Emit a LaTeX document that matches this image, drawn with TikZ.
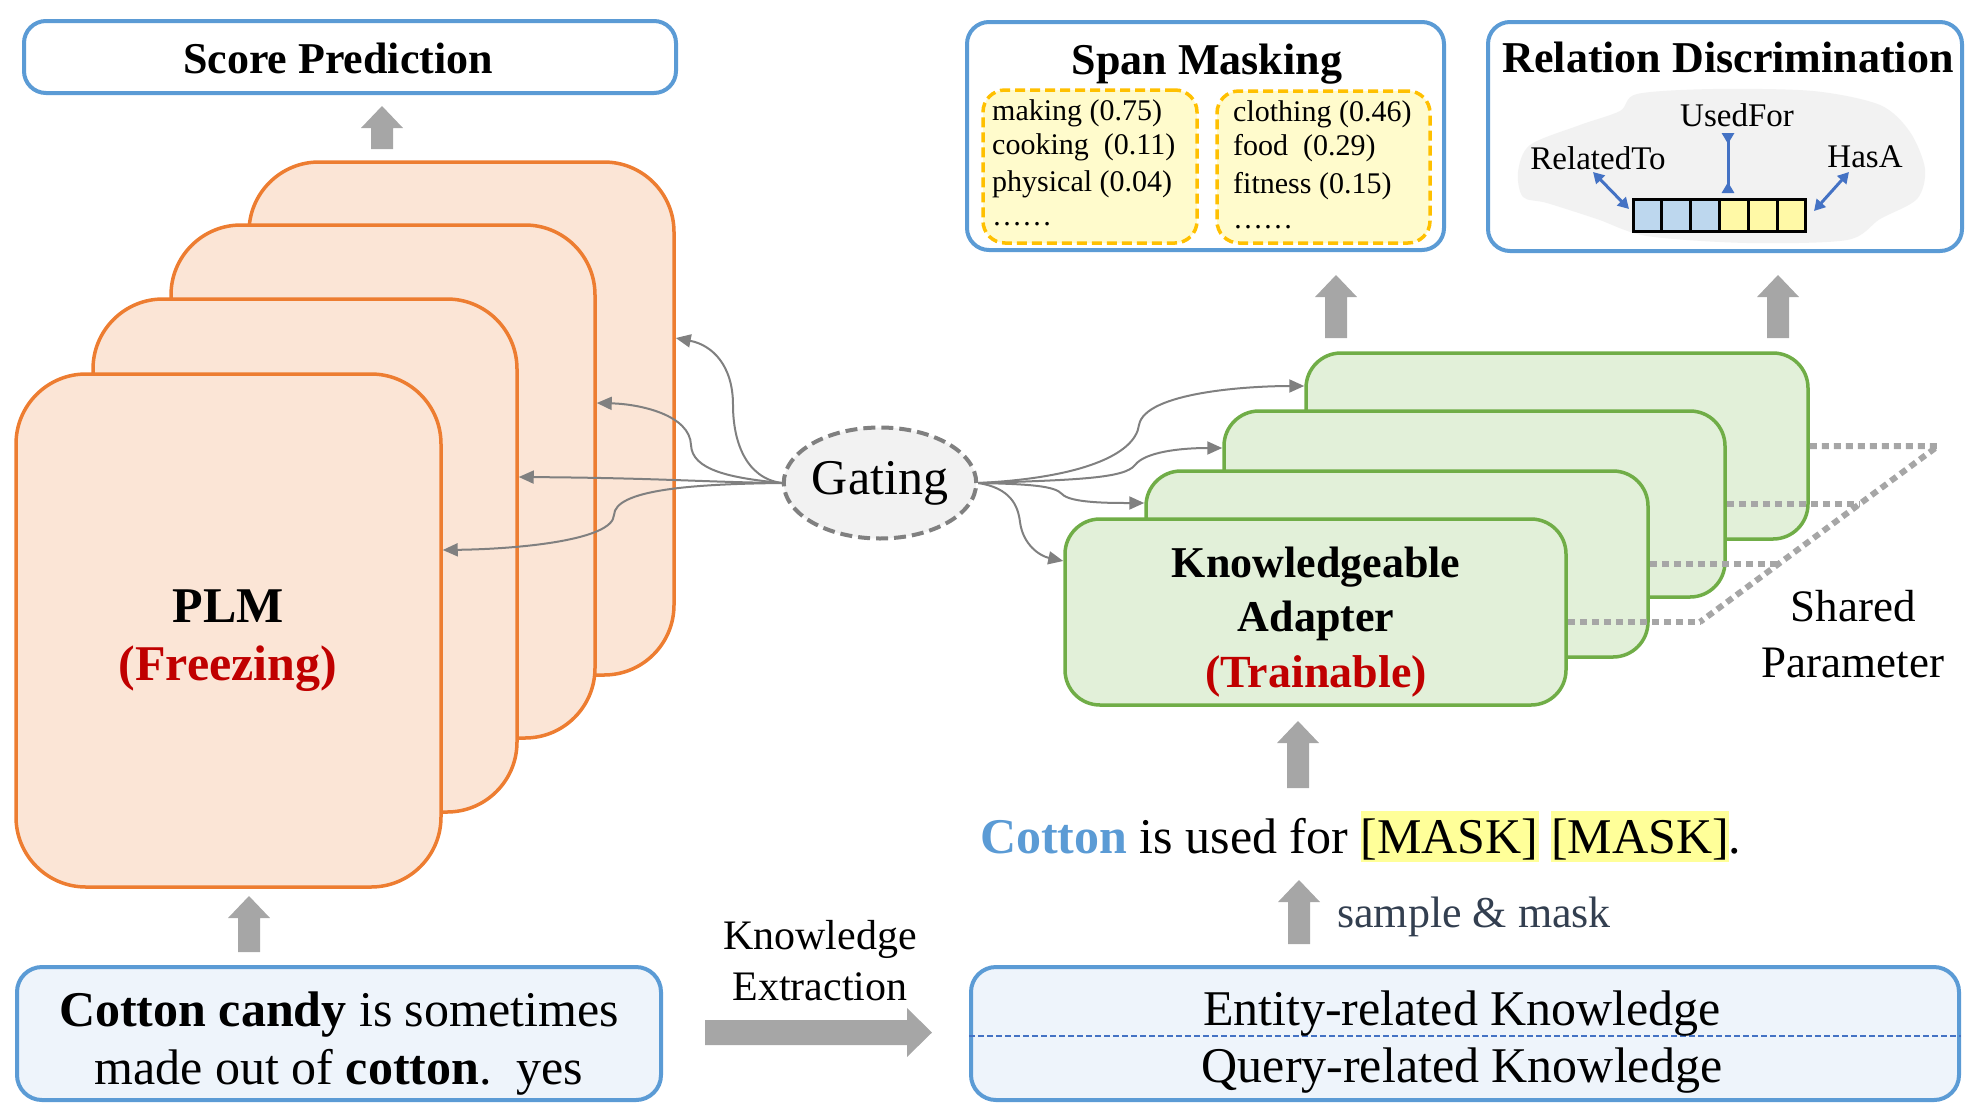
\documentclass[tikz,border=0pt]{standalone}
\usepackage{fontspec}
\setmainfont{Liberation Serif}
\usetikzlibrary{arrows.meta,shapes.geometric,fit,calc}
\definecolor{orgline}{HTML}{ED7D31}
\definecolor{orgfill}{HTML}{FBE5D6}
\definecolor{grnline}{HTML}{70AD47}
\definecolor{grnfill}{HTML}{E2F0D9}
\definecolor{bluline}{HTML}{5B9BD5}
\definecolor{blufill}{HTML}{EEF4FB}
\definecolor{arrgray}{HTML}{A6A6A6}
\definecolor{thingray}{HTML}{808080}
\definecolor{gatefill}{HTML}{F2F2F2}
\definecolor{ylwline}{HTML}{FFC000}
\definecolor{ylwfill}{HTML}{FFFBCC}
\definecolor{maskylw}{HTML}{FFFF99}
\definecolor{cellblue}{HTML}{BDD7EE}
\definecolor{cellylw}{HTML}{FFF9A6}
\definecolor{relblue}{HTML}{4472C4}
\definecolor{darkred}{HTML}{C00000}
\definecolor{slate}{HTML}{333F50}
\definecolor{cloudgray}{HTML}{F2F2F2}
\newcommand\myfs[1]{\fontsize{#1}{#1}\selectfont}
\newcommand\hlmask[1]{{\setlength{\fboxsep}{0pt}\colorbox{maskylw}{\rule[-9pt]{0pt}{51pt}#1}}}
\newcommand\blockup[3]{\fill[arrgray] ({#1-11},#2) -- ({#1-11},{#3+22}) -- ({#1-21},{#3+22}) -- (#1,#3) -- ({#1+21},{#3+22}) -- ({#1+11},{#3+22}) -- ({#1+11},#2) -- cycle;}
\begin{document}
\begin{tikzpicture}[x=1pt,y=-1pt,
  plmbox/.style={draw=orgline,fill=orgfill,line width=3.5pt,rounded corners=70pt,inner sep=0pt},
  adbox/.style={draw=grnline,fill=grnfill,line width=3.5pt,rounded corners=35pt,inner sep=0pt},
  topbox/.style={draw=bluline,fill=white,line width=4pt,rounded corners=22pt,inner sep=0pt},
  botbox/.style={draw=bluline,fill=blufill,line width=4pt,rounded corners=25pt,inner sep=0pt},
  ylwbox/.style={draw=ylwline,fill=ylwfill,line width=3.5pt,dash pattern=on 10pt off 5pt,rounded corners=22pt,inner sep=0pt},
  gate/.style={ellipse,draw=thingray,fill=gatefill,line width=4pt,dash pattern=on 12pt off 6pt,minimum width=192pt,minimum height=111pt,inner sep=0pt,font=\myfs{50}},
  garrow/.style={draw=thingray,line width=2pt,-{Triangle[length=15pt,width=13pt]}},
  shared/.style={draw=arrgray,line width=6pt,dash pattern=on 7pt off 5pt},
  cell/.style={draw=black,line width=3pt,minimum width=28.8pt,minimum height=32pt,inner sep=0pt},
  relarr/.style={draw=relblue,line width=3pt},
  title/.style={font=\myfs{44}\bfseries,anchor=base,inner sep=0pt},
  item/.style={font=\myfs{30},anchor=base west,inner sep=0pt},
  lab/.style={font=\myfs{33},anchor=base,inner sep=0pt},
  big/.style={font=\myfs{50},anchor=base,inner sep=0pt}
]
\useasboundingbox (0,0) rectangle (1976,1112);

% PLM stack
\node[plmbox,fit={(249,162) (674,675)}] (plm4) {};
\node[plmbox,fit={(171,225) (595,738)}] (plm3) {};
\node[plmbox,fit={(93,299) (517,812)}] (plm2) {};
\node[plmbox,fit={(16,374) (441,887)}] (plm1) {};
\node[big,font=\myfs{50}\bfseries] (plmt) at (228,622) {PLM};
\node[big,font=\myfs{50}\bfseries,text=darkred] (plmf) at (228,680) {(Freezing)};

% Adapter stack
\node[adbox,fit={(1306,353) (1808,539)}] (ad4) {};
\node[adbox,fit={(1224,411) (1725,597)}] (ad3) {};
\node[adbox,fit={(1146,471) (1648,657)}] (ad2) {};
\node[adbox,fit={(1065,519) (1566,705)}] (ad1) {};
\node[anchor=base,inner sep=0pt,font=\myfs{44}\bfseries] (adt1) at (1316,577) {Knowledgeable};
\node[anchor=base,inner sep=0pt,font=\myfs{44}\bfseries] (adt2) at (1316,631) {Adapter};
\node[anchor=base,inner sep=0pt,font=\myfs{46}\bfseries,text=darkred] (adt3) at (1316,687) {(Trainable)};

% shared parameter dotted lines
\coordinate (sh1) at (1938,446);
\coordinate (sh2) at (1700,622);
\draw[shared] (ad4.east |- sh1) -- (sh1) -- (sh2);
\draw[shared] (ad3.east |- 0,504) -- (1860,504);
\draw[shared] (ad2.east |- 0,564) -- (1780,564);
\draw[shared] (ad1.east |- sh2) -- (sh2);
\node[anchor=base,inner sep=0pt,font=\myfs{45}] (shp1) at (1853,621) {Shared};
\node[anchor=base,inner sep=0pt,font=\myfs{45}] (shp2) at (1853,677) {Parameter};

% top boxes
\node[topbox,fit={(24,21) (676,93)}] (score) {};
\node[title] (scoret) at (338,73) {Score Prediction};

\node[topbox,fit={(967,22) (1444,250)}] (span) {};
\node[title] (spant) at (1207,74) {Span Masking};
\node[ylwbox,fit={(983,90) (1197,243)}] (spl) {};
\node[ylwbox,fit={(1217,91) (1430,243)}] (spr) {};
\node[item] (i1) at (992,120) {making (0.75)};
\node[item] (i2) at (992,154) {cooking\ \ (0.11)};
\node[item] (i3) at (992,191) {physical (0.04)};
\node[item] (i4) at (992,225) {……};
\node[item] (j1) at (1233,121) {clothing (0.46)};
\node[item] (j2) at (1233,155) {food\ \ (0.29)};
\node[item] (j3) at (1233,193) {fitness (0.15)};
\node[item] (j4) at (1233,228) {……};

\node[topbox,fit={(1488,22) (1962,251)}] (rel) {};
\node[title] (relt) at (1728,72) {Relation Discrimination};
\fill[cloudgray] plot[smooth cycle] coordinates {(1523,197) (1518,172) (1530,145) (1580,125) (1620,111) (1637,94) (1713,89) (1813,91) (1880,105) (1910,132) (1925,169) (1917,199) (1880,219) (1847,240) (1747,243) (1647,236) (1597,219) (1547,203)};
\foreach \i in {0,1,2} {\node[cell,fill=cellblue] (c\i) at ({1647.4+28.8*\i},215) {};}
\foreach \i in {3,4,5} {\node[cell,fill=cellylw] (c\i) at ({1647.4+28.8*\i},215) {};}
\node[lab] (usedfor) at (1737,126) {UsedFor};
\node[lab] (relto) at (1598,169) {RelatedTo};
\node[lab] (hasa) at (1865,167) {HasA};
\coordinate (u1) at (1728,133);
\coordinate (u2) at (1728,193);
\draw[relarr,{Triangle[reversed,length=11pt,width=12pt]}-{Triangle[reversed,length=11pt,width=12pt]}] (u1) -- (u2);
\coordinate (r1) at (1593,172);
\coordinate (r2) at (1629,209);
\draw[relarr,{Triangle[length=11pt,width=12pt]}-{Triangle[length=11pt,width=12pt]}] (r1) -- (r2);
\coordinate (h1) at (1849,172);
\coordinate (h2) at (1814,211);
\draw[relarr,{Triangle[length=11pt,width=12pt]}-{Triangle[length=11pt,width=12pt]}] (h1) -- (h2);

% bottom boxes
\node[botbox,fit={(17,967) (661,1100)}] (input) {};
\node[big] (in1) at (339,1026) {\textbf{Cotton candy} is sometimes};
\node[big] (in2) at (339,1084) {made out of \textbf{cotton}.\ \ yes};

\node[botbox,fit={(971,967) (1959,1100)}] (know) {};
\draw[draw=relblue,line width=2.5pt,dash pattern=on 6pt off 3pt] (know.west |- 0,1036) -- (know.east |- 0,1036);
\node[big] (k1) at (1462,1025) {Entity-related Knowledge};
\node[big] (k2) at (1462,1082) {Query-related Knowledge};

\node[anchor=base,inner sep=0pt,font=\myfs{42}] (ke1) at (820,949) {Knowledge};
\node[anchor=base,inner sep=0pt,font=\myfs{42}] (ke2) at (820,1000) {Extraction};
\fill[arrgray] (705,1020) -- (907,1020) -- (907,1008) -- (932,1032.5) -- (907,1057) -- (907,1045) -- (705,1045) -- cycle;

\node[anchor=base west,inner sep=0pt,font=\myfs{44},text=slate] (sm) at (1337,927) {sample \& mask};
\node[anchor=base west,inner sep=0pt,font=\myfs{50}] (sent) at (980,853) {\textbf{\color{bluline}Cotton} is used for \hlmask{[MASK]} \hlmask{[MASK]}.};

% block arrows
\blockup{382}{149}{106}
\blockup{249}{952}{896}
\blockup{1336}{338}{275}
\blockup{1778}{338}{275}
\blockup{1298}{788}{721}
\blockup{1299}{944}{880}

% gating
\node[gate] (gating) at (880,483) {Gating};
\draw[garrow] (gating.west) .. controls (745,478) and (733,440) .. (733,405) .. controls (733,365) and (712,345) .. (plm4.east |- 0,338);
\draw[garrow] (gating.west) .. controls (730,478) and (692,470) .. (691,445) .. controls (690,415) and (640,404) .. (plm3.east |- 0,403);
\draw[garrow] (gating.west) .. controls (700,482) and (660,478) .. (plm2.east |- 0,477);
\draw[garrow] (gating.west) .. controls (690,484) and (615,490) .. (614,515) .. controls (613,540) and (520,549) .. (plm1.east |- 0,550);
\draw[garrow] (gating.east) .. controls (1080,478) and (1135,455) .. (1139,425) .. controls (1145,392) and (1250,386) .. (ad4.west |- 0,386);
\draw[garrow] (gating.east) .. controls (1080,480) and (1125,478) .. (1135,465) .. controls (1145,452) and (1180,448) .. (ad3.west |- 0,448);
\draw[garrow] (gating.east) .. controls (1030,484) and (1055,486) .. (1062,494) .. controls (1070,503) and (1110,503) .. (ad2.west |- 0,503);
\draw[garrow] (gating.east) .. controls (1010,488) and (1018,505) .. (1020,522) .. controls (1023,545) and (1040,556) .. (ad1.west |- 0,561);
\end{tikzpicture}
\end{document}
